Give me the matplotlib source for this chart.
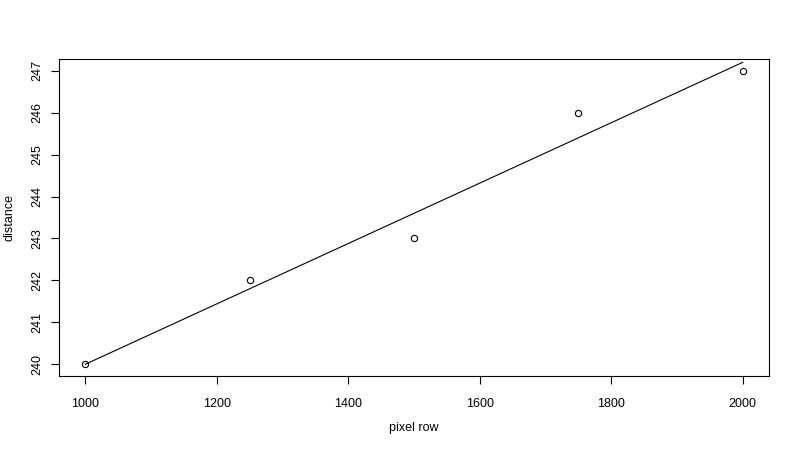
import matplotlib
matplotlib.use("Agg")
import matplotlib.pyplot as plt
import numpy as np

plt.rcParams['font.family'] = ['Liberation Sans', 'DejaVu Sans']

# data
pixel_row = np.array([1000, 1250, 1500, 1750, 2000])
distance = np.array([240, 242, 243, 246, 247])

# linear fit
slope, intercept = np.polyfit(pixel_row, distance, 1)
fitted = slope * pixel_row + intercept

fig = plt.figure(figsize=(8, 4.5), dpi=100)
ax = fig.add_axes([0.07375, 0.1644, 0.8875, 0.7045])

ax.plot(pixel_row, distance, 'o', mfc='none', mec='black', ms=4.5, mew=0.8)
ax.plot(pixel_row, fitted, color='black', lw=0.8)

ax.set_xlim(960, 2040)
ax.set_ylim(239.72, 247.28)
ax.set_xticks([1000, 1200, 1400, 1600, 1800, 2000])
ax.set_yticks(range(240, 248))
ax.tick_params(axis='x', direction='out', length=6, width=0.8, labelsize=9, pad=10)
ax.tick_params(axis='y', direction='out', length=6, width=0.8, labelsize=9, pad=5)
for lbl in ax.get_yticklabels():
    lbl.set_rotation(90)
    lbl.set_va('center')

for s in ax.spines.values():
    s.set_linewidth(0.8)

ax.set_xlabel('pixel row', fontsize=9)
ax.set_ylabel('distance', fontsize=9)
ax.xaxis.set_label_coords(0.5, -0.164)
ax.yaxis.set_label_coords(-0.0704, 0.5)
ax.xaxis.label.set_va('center')
ax.yaxis.label.set_va('center')

fig.savefig('out.png', dpi=100)
